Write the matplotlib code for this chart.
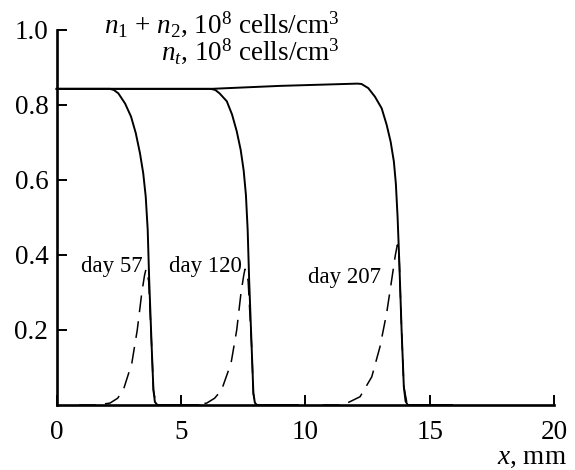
import matplotlib
matplotlib.use("Agg")
import matplotlib.pyplot as plt
import matplotlib.transforms as mtransforms

plt.rcParams['font.family'] = ['Liberation Serif', 'DejaVu Serif']
plt.rcParams['mathtext.fontset'] = 'custom'
plt.rcParams['mathtext.rm'] = 'Liberation Serif'
plt.rcParams['mathtext.it'] = 'Liberation Serif:italic'

# n1 + n2 (solid)
x_sol_57 = [0, 2.14, 2.3, 2.48, 2.75, 2.99, 3.18, 3.35, 3.48, 3.58, 3.66, 3.72, 3.82, 3.89, 3.95, 4.05, 5.7]
y_sol_57 = [0.843, 0.843, 0.840, 0.831, 0.804, 0.769, 0.725, 0.671, 0.618, 0.556, 0.467, 0.333, 0.155, 0.04, 0.008, 0.0, 0.0]

x_sol_120 = [0, 6.2, 6.38, 6.55, 6.84, 7.05, 7.24, 7.40, 7.52, 7.61, 7.68, 7.74, 7.84, 7.91, 7.97, 8.05, 9.7]
y_sol_120 = [0.843, 0.843, 0.840, 0.831, 0.810, 0.775, 0.730, 0.680, 0.625, 0.560, 0.467, 0.333, 0.155, 0.031, 0.006, 0.0, 0.0]

x_sol_207 = [0, 6.2, 9.0, 12.1, 12.26, 12.53, 12.80, 13.07, 13.27, 13.43, 13.56, 13.64, 13.71, 13.78, 13.87, 13.96, 14.03, 14.12, 15.9]
y_sol_207 = [0.843, 0.843, 0.851, 0.857, 0.856, 0.845, 0.822, 0.791, 0.747, 0.702, 0.649, 0.590, 0.500, 0.378, 0.200, 0.049, 0.01, 0.0, 0.0]

# n_t (dashed)
x_dash_57 = [0.9, 1.6, 2.14, 2.45, 2.68, 3.02, 3.24, 3.42, 3.53, 3.59, 3.63, 3.70, 3.82, 3.89, 4.0]
y_dash_57 = [0.0, 0.0, 0.005, 0.018, 0.04, 0.111, 0.200, 0.298, 0.345, 0.362, 0.355, 0.33, 0.155, 0.04, 0.0]

x_dash_120 = [4.9, 5.5, 6.03, 6.35, 6.63, 7.01, 7.24, 7.41, 7.52, 7.57, 7.63, 7.70, 7.84, 7.91, 8.0]
y_dash_120 = [0.0, 0.0, 0.005, 0.018, 0.04, 0.111, 0.200, 0.298, 0.345, 0.362, 0.355, 0.33, 0.155, 0.03, 0.0]

x_dash_207 = [10.7, 11.52, 12.2, 12.67, 13.0, 13.27, 13.47, 13.62, 13.70, 13.74, 13.78, 13.87, 13.96, 14.1]
y_dash_207 = [0.0, 0.0, 0.022, 0.075, 0.155, 0.245, 0.333, 0.40, 0.427, 0.42, 0.378, 0.200, 0.049, 0.0]

day_labels = ['day 57', 'day 120', 'day 207']
label_x = [3.45, 7.46, 13.05]
label_y = [0.355, 0.355, 0.3245]

fig = plt.figure(figsize=(5.75, 4.7), dpi=100)
ax = fig.add_axes([0.0986, 0.1383, 0.8649, 0.7979])

for xs, ys in [(x_sol_57, y_sol_57), (x_sol_120, y_sol_120), (x_sol_207, y_sol_207)]:
    ax.plot(xs, ys, color='black', lw=1.4, clip_on=False, solid_joinstyle='round')
for xs, ys in [(x_dash_57, y_dash_57), (x_dash_120, y_dash_120), (x_dash_207, y_dash_207)]:
    ax.plot(xs, ys, color='black', lw=1.1, linestyle=(0, (11, 6)), clip_on=False)

for lab, lx, ly in zip(day_labels, label_x, label_y):
    ax.text(lx, ly, lab, ha='right', va='baseline', fontsize=16.5)

ax.set_xlim(0, 20)
ax.set_ylim(0, 1.0)
ax.set_xticks([0, 5, 10, 15, 20])
ax.set_yticks([0.2, 0.4, 0.6, 0.8, 1.0])
ax.set_yticklabels(['0.2', '0.4', '0.6', '0.8', '1.0'])
ax.tick_params(direction='in', length=7, width=1.4, labelsize=19.5)
ax.tick_params(axis='x', pad=11)
ax.tick_params(axis='y', pad=6)
for s in ['top', 'right']:
    ax.spines[s].set_visible(False)
for s in ['left', 'bottom']:
    ax.spines[s].set_linewidth(1.9)

ax.text(11.39, 0.994, r'$n_1$ + $n_2$, 10$^8$ cells/cm$^3$', ha='right', va='baseline',
        fontsize=19.5, clip_on=False)
ax.text(11.39, 0.921, r'$n_t$, 10$^8$ cells/cm$^3$', ha='right', va='baseline',
        fontsize=19.5, clip_on=False)

trans = mtransforms.blended_transform_factory(ax.transData, ax.transAxes)
ax.text(20.52, -0.156, r'$x$, mm', transform=trans, ha='right', va='baseline', fontsize=19.5)

fig.savefig('out.png', dpi=100)
